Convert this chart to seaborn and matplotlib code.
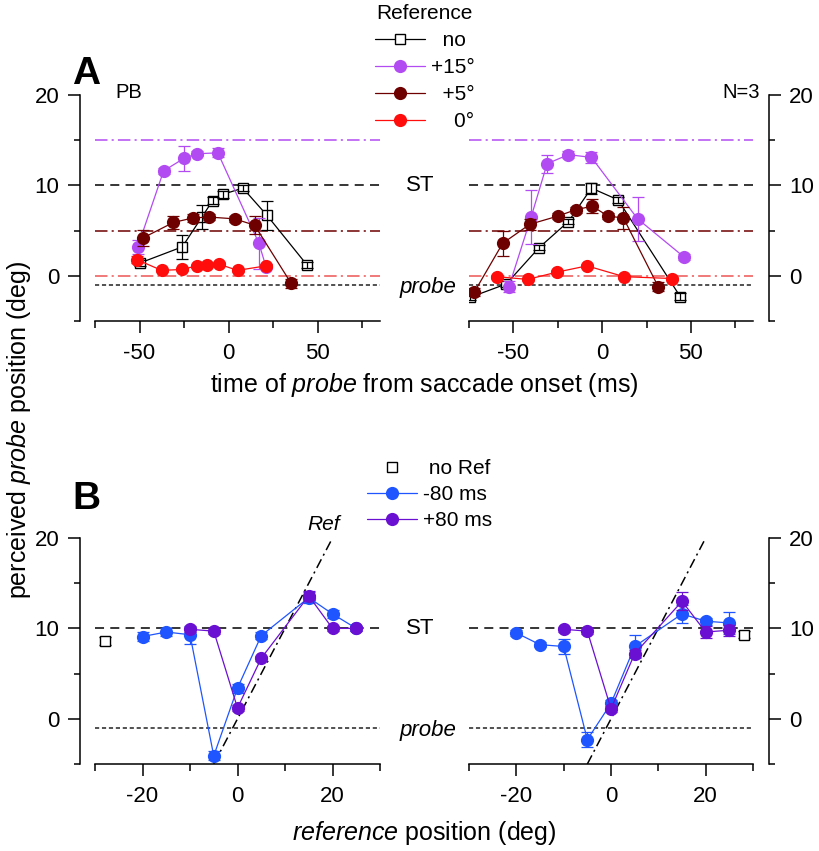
import matplotlib
matplotlib.use('Agg')
import matplotlib.pyplot as plt
import matplotlib.transforms as mtransforms
from matplotlib.lines import Line2D
from matplotlib.ticker import FixedLocator
import seaborn as sns

sns.set_theme(style='ticks')
plt.rcParams['font.family'] = ['Liberation Sans', 'DejaVu Sans']
plt.rcParams['mathtext.fontset'] = 'custom'
plt.rcParams['mathtext.rm'] = 'Liberation Sans'
plt.rcParams['mathtext.it'] = 'Liberation Sans:italic'
plt.rcParams['lines.scale_dashes'] = False
plt.rcParams['axes.unicode_minus'] = False
for k in ('text.color', 'axes.labelcolor', 'xtick.color', 'ytick.color', 'axes.edgecolor'):
    plt.rcParams[k] = 'black'

# ---- panel A data: perceived position vs probe time (ms) ----
# subject PB
pb_no_t = [-50, -26, -15, -9, -3.4, 8, 21.5, 44]
pb_no_y = [1.4, 3.2, 6.5, 8.3, 9.0, 9.7, 6.7, 1.2]
pb_no_e = [0.3, 1.3, 1.3, 0.4, 0.4, 0.3, 1.6, 0.3]
pb_15_t = [-51, -36.5, -25, -18, -6, 17, 21]
pb_15_y = [3.2, 11.6, 13.0, 13.5, 13.6, 3.6, 1.0]
pb_15_e = [0.8, 0.3, 1.4, 0.3, 0.5, 2.8, 0.3]
pb_5_t = [-48, -31, -20, -11, 3.4, 14.6, 35]
pb_5_y = [4.2, 5.9, 6.4, 6.5, 6.3, 5.6, -0.8]
pb_5_e = [0.9, 0.7, 0.4, 0.3, 0.3, 1.0, 0.5]
pb_0_t = [-51.6, -37.6, -26, -18, -12, -5.6, 5, 21]
pb_0_y = [1.8, 0.6, 0.7, 1.1, 1.2, 1.3, 0.6, 1.1]
pb_0_e = [0.4, 0.2, 0.2, 0.2, 0.2, 0.2, 0.2, 0.2]
# mean of N=3
n3_no_t = [-74.6, -54, -35.6, -19, -6, 9, 44]
n3_no_y = [-2.4, -0.9, 3.1, 6.0, 9.7, 8.4, -2.3]
n3_no_e = [0.3, 0.3, 0.3, 0.3, 0.6, 0.3, 0.4]
n3_15_t = [-52.5, -40, -31, -19, -6, 20, 46]
n3_15_y = [-1.2, 6.5, 12.4, 13.4, 13.1, 6.3, 2.1]
n3_15_e = [0.6, 3.0, 1.0, 0.4, 0.6, 2.4, 0.3]
n3_5_t = [-72, -56, -40.7, -25, -15, -5.6, 3.4, 12, 31.6]
n3_5_y = [-1.8, 3.6, 5.7, 6.6, 7.3, 7.7, 6.6, 6.4, -1.2]
n3_5_e = [0.4, 1.4, 0.6, 0.3, 0.3, 0.8, 0.3, 1.2, 0.5]
n3_0_t = [-59, -42, -25.6, -8.5, 12.4, 39.5]
n3_0_y = [-0.1, -0.4, 0.4, 1.1, -0.1, -0.3]
n3_0_e = [0.2, 0.2, 0.2, 0.2, 0.2, 0.2]

# ---- panel B data: perceived position vs reference position (deg) ----
ref_m80 = [-20, -15, -10, -5, 0, 5, 15, 20, 25]
ref_p80 = [-10, -5, 0, 5, 15, 20, 25]
pb_m80_y = [9.1, 9.6, 9.3, -4.1, 3.4, 9.2, 13.4, 11.6, 10.0]
pb_m80_e = [0.5, 0.4, 1.0, 0.5, 0.5, 0.4, 0.6, 0.4, 0.3]
pb_p80_y = [9.9, 9.7, 1.2, 6.7, 13.6, 10.0, 10.0]
pb_p80_e = [0.3, 0.3, 0.3, 0.3, 0.5, 0.3, 0.3]
pb_noref = (-28, 8.6, 0.4)
n3_m80_y = [9.5, 8.2, 8.0, -2.3, 1.7, 8.0, 11.6, 10.8, 10.6]
n3_m80_e = [0.3, 0.3, 0.8, 0.8, 0.4, 1.3, 1.0, 0.4, 1.2]
n3_p80_y = [9.9, 9.7, 1.1, 7.2, 13.0, 9.6, 9.8]
n3_p80_e = [0.3, 0.3, 0.3, 0.4, 1.0, 0.7, 0.6]
n3_noref = (28, 9.3, 0.4)

legA_labels = ['  no', '+15°', '  +5°', '    0°']
legB_labels = [' no Ref', '-80 ms', '+80 ms']

ST_POS = 10
PROBE_POS = -1

c_15 = '#b34bf2'
c_5 = '#6e0000'
c_0 = '#ff0d0d'
c_m80 = '#1f55ff'
c_p80 = '#6a10d2'

W, H = 819, 851
fig = plt.figure(figsize=(W / 100, H / 100), dpi=100)


def box(x0, x1, ytop, ybot):
    return [x0 / W, 1 - ybot / H, (x1 - x0) / W, (ybot - ytop) / H]


axA1 = fig.add_axes(box(95, 380, 95, 321))
axA2 = fig.add_axes(box(469, 753, 95, 321))
axB1 = fig.add_axes(box(95, 380, 538, 764))
axB2 = fig.add_axes(box(469, 753, 538, 764))


def series(ax, x, y, e, color, marker='o', ms=9.5, z=3):
    if marker == 's':
        ax.errorbar(x, y, yerr=e, fmt='none', ecolor='black', elinewidth=0.9,
                    capsize=4.5, capthick=0.9, zorder=z + 0.5)
        sns.lineplot(x=x, y=y, ax=ax, color='black', linewidth=0.9, marker='s',
                     markersize=7.5, markerfacecolor='white', markeredgecolor='black',
                     markeredgewidth=1.0, legend=False, zorder=z)
    else:
        sns.lineplot(x=x, y=y, ax=ax, color=color, linewidth=0.9, marker='o',
                     markersize=ms, markeredgewidth=0, legend=False, zorder=z)
        ax.errorbar(x, y, yerr=e, fmt='none', ecolor=color, elinewidth=0.9,
                    capsize=4.5, capthick=0.9, zorder=z)


def style_axes(ax, side, xlim, major, minor):
    ax.set_ylim(-5, 20)
    ax.set_xlim(*xlim)
    ax.spines['top'].set_visible(False)
    ax.spines['bottom'].set_linewidth(1.1)
    ax.xaxis.set_major_locator(FixedLocator(major))
    ax.xaxis.set_minor_locator(FixedLocator(minor))
    ax.tick_params(axis='x', which='major', direction='out', length=8.5, width=1.1,
                   labelsize=16, pad=7)
    ax.tick_params(axis='x', which='minor', direction='out', length=5, width=1.1)
    ax.yaxis.set_major_locator(FixedLocator([0, 10, 20]))
    ax.yaxis.set_minor_locator(FixedLocator([-5, 5, 15]))
    if side == 'left':
        ax.spines['right'].set_visible(False)
        ax.spines['left'].set_position(('outward', 11))
        ax.spines['left'].set_linewidth(1.1)
        ax.yaxis.tick_left()
    else:
        ax.spines['left'].set_visible(False)
        ax.spines['right'].set_position(('outward', 11.5))
        ax.spines['right'].set_linewidth(1.1)
        ax.yaxis.tick_right()
    ax.tick_params(axis='y', which='major', direction='out', length=8.5, width=1.1,
                   labelsize=16, pad=6)
    ax.tick_params(axis='y', which='minor', direction='out', length=4.5, width=1.1)
    ax.set_xlabel('')
    ax.set_ylabel('')


# horizontal reference lines
for ax in (axA1, axA2):
    ax.axhline(15, color=c_15, lw=1.1, dashes=(9, 3, 1.5, 3), zorder=1)
    ax.axhline(5, color=c_5, lw=1.1, dashes=(9, 3, 1.5, 3), zorder=1)
    ax.axhline(0, color='#ee5555', lw=1.1, dashes=(9, 3, 1.5, 3), zorder=1)
    ax.axhline(ST_POS, color='black', lw=1.1, dashes=(6.5, 4.5), zorder=1)
    ax.axhline(PROBE_POS, color='#222222', lw=1.1, dashes=(3, 2), zorder=1)
for ax in (axB1, axB2):
    ax.axhline(ST_POS, color='black', lw=1.1, dashes=(6.5, 4.5), zorder=1)
    ax.axhline(PROBE_POS, color='#222222', lw=1.1, dashes=(3, 2), zorder=1)
    ax.plot([-5, 20], [-5, 20], color='black', lw=1.1, dashes=(7, 3, 1.5, 3), zorder=1)

# panel A data
series(axA1, pb_no_t, pb_no_y, pb_no_e, 'black', marker='s', z=2)
series(axA1, pb_15_t, pb_15_y, pb_15_e, c_15, z=3)
series(axA1, pb_5_t, pb_5_y, pb_5_e, c_5, z=4)
series(axA1, pb_0_t, pb_0_y, pb_0_e, c_0, z=5)
series(axA2, n3_no_t, n3_no_y, n3_no_e, 'black', marker='s', z=2)
series(axA2, n3_15_t, n3_15_y, n3_15_e, c_15, z=3)
series(axA2, n3_5_t, n3_5_y, n3_5_e, c_5, z=4)
series(axA2, n3_0_t, n3_0_y, n3_0_e, c_0, z=5)

# panel B data
for ax, m80, m80e, p80, p80e, nr in ((axB1, pb_m80_y, pb_m80_e, pb_p80_y, pb_p80_e, pb_noref),
                                     (axB2, n3_m80_y, n3_m80_e, n3_p80_y, n3_p80_e, n3_noref)):
    series(ax, ref_m80, m80, m80e, c_m80, z=3)
    series(ax, ref_p80, p80, p80e, c_p80, z=4)
    ax.errorbar([nr[0]], [nr[1]], yerr=[nr[2]], fmt='s', ms=7.5, mfc='white', mec='black',
                mew=1.0, ecolor='black', elinewidth=0.9, capsize=4.5, capthick=0.9,
                zorder=5, clip_on=False)

style_axes(axA1, 'left', (-75, 85), [-50, 0, 50], [-75, -25, 25, 75])
style_axes(axA2, 'right', (-75, 85), [-50, 0, 50], [-75, -25, 25, 75])
style_axes(axB1, 'left', (-30, 30), [-20, 0, 20], [-30, -10, 10, 30])
style_axes(axB2, 'right', (-30, 30), [-20, 0, 20], [-30, -10, 10, 30])

# labels in the gap between the two columns
for ax in (axA2, axB2):
    tr = mtransforms.blended_transform_factory(ax.transAxes, ax.transData)
    ax.text(-0.12, ST_POS, 'ST', transform=tr, ha='right', va='center', fontsize=16)
    ax.text(-0.045, PROBE_POS - 0.3, 'probe', transform=tr, ha='right', va='center',
            fontsize=16, style='italic')

axB1.text(14.7, 20.4, 'Ref', fontsize=15, style='italic', ha='left', va='bottom')

fig.text(115 / W, 1 - 93 / H, 'PB', fontsize=14.5, ha='left', va='center')
fig.text(760 / W, 1 - 93 / H, 'N=3', fontsize=14.5, ha='right', va='center')
fig.text(72 / W, 1 - 74 / H, 'A', fontsize=28, fontweight='bold', ha='left', va='center')
fig.text(72 / W, 1 - 499 / H, 'B', fontsize=28, fontweight='bold', ha='left', va='center')

fig.text(424 / W, 1 - 385 / H, r'time of $\mathit{probe}$ from saccade onset (ms)',
         fontsize=18, ha='center', va='center')
fig.text(424 / W, 1 - 833 / H, r'$\mathit{reference}$ position (deg)',
         fontsize=18, ha='center', va='center')
fig.text(19 / W, 1 - 430 / H, r'perceived $\mathit{probe}$ position (deg)',
         fontsize=18, ha='center', va='center', rotation=90)

# legends
hA = [Line2D([], [], color='black', lw=0.9, marker='s', ms=7.5, mfc='white', mec='black'),
      Line2D([], [], color=c_15, lw=0.9, marker='o', ms=9.5, mew=0),
      Line2D([], [], color=c_5, lw=0.9, marker='o', ms=9.5, mew=0),
      Line2D([], [], color=c_0, lw=0.9, marker='o', ms=9.5, mew=0)]
legA = fig.legend(hA, legA_labels, title='Reference', loc='upper left',
                  bbox_to_anchor=(362 / W, 1 + 8 / H), frameon=False, fontsize=15,
                  title_fontsize=15, handlelength=2.4, handletextpad=0.3,
                  labelspacing=0.38, borderpad=0.1)
hB = [Line2D([], [], ls='none', marker='s', ms=7.5, mfc='white', mec='black'),
      Line2D([], [], color=c_m80, lw=0.9, marker='o', ms=9.5, mew=0),
      Line2D([], [], color=c_p80, lw=0.9, marker='o', ms=9.5, mew=0)]
legB = fig.legend(hB, legB_labels, loc='upper left',
                  bbox_to_anchor=(354 / W, 1 - 447 / H), frameon=False, fontsize=15,
                  handlelength=2.4, handletextpad=0.3, labelspacing=0.32, borderpad=0.1)

fig.savefig('out.png', dpi=100)
